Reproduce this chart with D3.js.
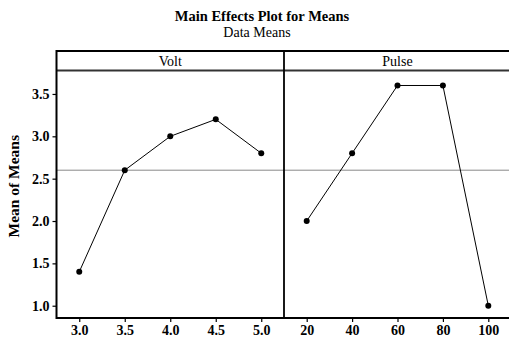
<!DOCTYPE html>
<html>
<head>
<meta charset="utf-8">
<script src="https://cdn.jsdelivr.net/npm/d3@7"></script>
<style>
  body { margin: 0; background: #fff; }
  text { font-family: "Liberation Serif", "Times New Roman", serif; }
</style>
</head>
<body>
<div id="chart"></div>
<script>
const voltLevels = [3.0, 3.5, 4.0, 4.5, 5.0];
const voltMeans = [1.4, 2.6, 3.0, 3.2, 2.8];
const pulseLevels = [20, 40, 60, 80, 100];
const pulseMeans = [2.0, 2.8, 3.6, 3.6, 1.0];
const yTicks = [1.0, 1.5, 2.0, 2.5, 3.0, 3.5];
const grandMean = 2.6;

const W = 509, H = 339;
const frameL = 56.5, split = 284, frameR = 511;
const frameT = 51, stripH = 19.5, frameB = 318;

const svg = d3.select("#chart").append("svg")
  .attr("width", W).attr("height", H);

// titles
svg.append("text").attr("x", 262).attr("y", 21).attr("text-anchor", "middle")
  .style("font-size", "14.5px").style("font-weight", "bold")
  .text("Main Effects Plot for Means");
svg.append("text").attr("x", 257).attr("y", 37).attr("text-anchor", "middle")
  .style("font-size", "14px").text("Data Means");

const y = d3.scaleLinear().domain([0.855, 3.777]).range([frameB, frameT + stripH]);

// reference line for the grand mean
svg.append("line")
  .attr("x1", frameL).attr("x2", frameR)
  .attr("y1", y(grandMean)).attr("y2", y(grandMean))
  .attr("stroke", "#888").attr("stroke-width", 1);

const panels = [
  { name: "Volt", levels: voltLevels, means: voltMeans,
    x: d3.scaleLinear().domain([2.75, 5.25]).range([frameL, split]), fmt: d3.format(".1f") },
  { name: "Pulse", levels: pulseLevels, means: pulseMeans,
    x: d3.scaleLinear().domain([10, 110]).range([split, frameR]), fmt: d3.format("d") }
];

panels.forEach((p) => {
  const [x0, x1] = p.x.range();
  // strip label
  svg.append("text").attr("x", (x0 + x1) / 2).attr("y", frameT + 15)
    .attr("text-anchor", "middle").style("font-size", "14px").text(p.name);

  const pts = p.levels.map((l, i) => [p.x(l), y(p.means[i])]);
  svg.append("path")
    .attr("d", d3.line()(pts))
    .attr("fill", "none").attr("stroke", "#000").attr("stroke-width", 1);
  svg.append("g").selectAll("circle").data(pts).join("circle")
    .attr("cx", (d) => d[0]).attr("cy", (d) => d[1]).attr("r", 3)
    .attr("fill", "#000");

  // x axis
  const xa = svg.append("g").attr("transform", `translate(0,${frameB})`)
    .call(d3.axisBottom(p.x).tickValues(p.levels).tickFormat(p.fmt).tickSize(4).tickPadding(3));
  xa.select(".domain").remove();
  xa.selectAll("line").attr("stroke", "#000").attr("stroke-width", 1.2);
  xa.selectAll("text").style("font-size", "14px").style("font-weight", "bold")
    .style("font-family", "'Liberation Serif', serif").attr("fill", "#000");
});

// y axis
const ya = svg.append("g").attr("transform", `translate(${frameL},0)`)
  .call(d3.axisLeft(y).tickValues(yTicks).tickFormat(d3.format(".1f")).tickSize(4).tickPadding(3));
ya.select(".domain").remove();
ya.selectAll("line").attr("stroke", "#000").attr("stroke-width", 1.2);
ya.selectAll("text").style("font-size", "14px").style("font-weight", "bold")
  .style("font-family", "'Liberation Serif', serif").attr("fill", "#000");

svg.append("text")
  .attr("transform", `translate(19,${(frameT + stripH + frameB) / 2 - 8}) rotate(-90)`)
  .attr("text-anchor", "middle")
  .style("font-size", "15.5px").style("font-weight", "bold")
  .text("Mean of Means");

// frame, strip and panel divider
svg.append("line").attr("x1", frameL).attr("x2", frameR).attr("y1", frameT + stripH).attr("y2", frameT + stripH)
  .attr("stroke", "#333").attr("stroke-width", 2);
svg.append("rect").attr("x", frameL).attr("y", frameT)
  .attr("width", frameR - frameL).attr("height", frameB - frameT)
  .attr("fill", "none").attr("stroke", "#000").attr("stroke-width", 2);
svg.append("line").attr("x1", split).attr("x2", split).attr("y1", frameT).attr("y2", frameB)
  .attr("stroke", "#000").attr("stroke-width", 1.8);
</script>
</body>
</html>
